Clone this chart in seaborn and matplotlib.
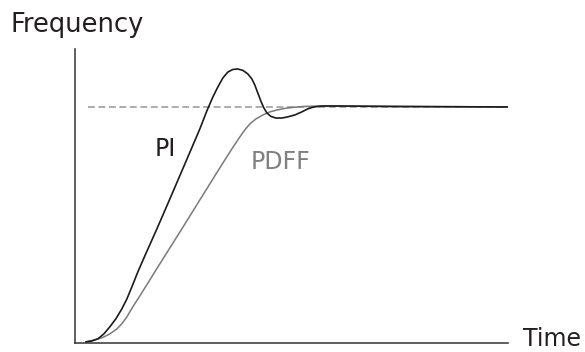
import matplotlib.pyplot as plt
import seaborn as sns
import pandas as pd

sns.set_theme(style='white')
plt.rcParams['font.family'] = ['DejaVu Sans']

# step response, time 0..10, frequency normalised to setpoint = 1
pi_time = [0.254, 0.393, 0.531, 0.670, 0.808, 0.947, 1.085, 1.201, 1.316, 1.455,
           1.617, 1.894, 2.194, 2.540, 2.887, 3.048, 3.187, 3.303, 3.418, 3.534,
           3.649, 3.764, 3.880, 3.995, 4.088, 4.157, 4.226, 4.296, 4.365, 4.434,
           4.527, 4.642, 4.781, 4.919, 5.081, 5.242, 5.381, 5.520, 5.704, 6.120,
           7.506, 10.0]
pi_freq = [0.004, 0.008, 0.017, 0.038, 0.068, 0.102, 0.144, 0.186, 0.237, 0.301,
           0.369, 0.483, 0.610, 0.758, 0.907, 0.983, 1.042, 1.085, 1.123, 1.148,
           1.159, 1.161, 1.155, 1.140, 1.119, 1.093, 1.059, 1.025, 0.996, 0.975,
           0.960, 0.953, 0.953, 0.958, 0.966, 0.979, 0.992, 1.0, 1.004, 1.004,
           1.002, 1.0]

pdff_time = [0.254, 0.462, 0.647, 0.808, 0.970, 1.085, 1.201, 1.339, 1.501, 1.732,
             1.963, 2.471, 2.887, 3.349, 3.626, 3.811, 3.926, 4.042, 4.180, 4.342,
             4.503, 4.665, 4.850, 5.035, 5.266, 5.658, 7.506, 10.0]
pdff_freq = [0.004, 0.013, 0.023, 0.038, 0.059, 0.081, 0.110, 0.153, 0.199, 0.267,
             0.335, 0.483, 0.606, 0.742, 0.822, 0.873, 0.903, 0.928, 0.949, 0.966,
             0.979, 0.987, 0.994, 0.998, 1.002, 1.004, 1.002, 1.0]

setpoint = 1.0

pi = pd.DataFrame({'t': pi_time, 'f': pi_freq})
pdff = pd.DataFrame({'t': pdff_time, 'f': pdff_freq})

fig = plt.figure(figsize=(5.85, 3.52), dpi=100)
ax = fig.add_axes([0.128, 0.026, 0.740, 0.835])

ax.hlines(setpoint, 0.3, 10, colors='#a6a6a6', linewidth=1.3,
          linestyles=(0, (3.8, 2.0)))
sns.lineplot(data=pdff, x='t', y='f', color='#7a7a7a', linewidth=1.1,
             sort=False, ax=ax)
sns.lineplot(data=pi, x='t', y='f', color='#1e1a1a', linewidth=1.2,
             sort=False, ax=ax)

ax.set_xlim(0, 10)
ax.set_ylim(0, 1.246)
ax.set_xticks([])
ax.set_yticks([])
ax.set_xlabel('')
ax.set_ylabel('')
for s in ['top', 'right']:
    ax.spines[s].set_visible(False)
for s in ['left', 'bottom']:
    ax.spines[s].set_color('#333333')
    ax.spines[s].set_linewidth(1.1)

ax.text(2.10, 0.822, 'PI', fontsize=17, color='#231f20', ha='center', va='center')
ax.text(4.76, 0.767, 'PDFF', fontsize=17, color='#808080', ha='center', va='center')

fig.text(10 / 585, 1 - 25 / 352, 'Frequency', fontsize=18.5, color='#231f20',
         ha='left', va='center')
fig.text(523 / 585, 1.5 / 352, 'Time', fontsize=17, color='#231f20',
         ha='left', va='bottom')

plt.savefig('out.png', dpi=100)
